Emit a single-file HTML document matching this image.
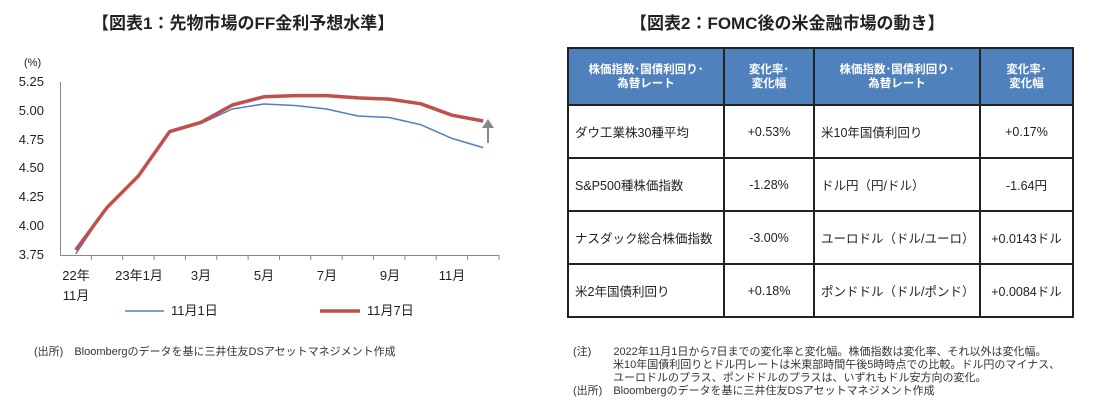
<!DOCTYPE html>
<html><head><meta charset="utf-8"><style>
body{margin:0;width:1099px;height:412px;background:#fff;font-family:"Liberation Sans","Noto Sans CJK JP",sans-serif;color:#222;position:relative;overflow:hidden}
.t{position:absolute;font-weight:bold;font-size:17px;white-space:nowrap}
.n{position:absolute;font-size:11px;white-space:nowrap;color:#333;line-height:13px}
table{position:absolute;left:567px;top:47px;border-collapse:collapse;font-size:12.5px;table-layout:fixed;width:505px}
td{border:2px solid #222;padding:0 6px;height:51px;white-space:nowrap}
th{border:2px solid #222;background:#4f81bd;color:#fff;font-size:11.5px;height:53px;line-height:14px}
td.c{text-align:center}
</style></head><body>
<div class="t" style="left:92px;top:9px">【図表1：先物市場のFF金利予想水準】</div>
<div class="t" style="left:630px;top:9px">【図表2：FOMC後の米金融市場の動き】</div>
<svg width="520" height="330" style="position:absolute;left:0;top:0" font-family="Liberation Sans,Noto Sans CJK JP,sans-serif" font-size="13" fill="#222">
<text x="24" y="66" font-size="11">(%)</text>
<g text-anchor="end">
<text x="44" y="86">5.25</text><text x="44" y="115">5.00</text><text x="44" y="144">4.75</text><text x="44" y="172">4.50</text><text x="44" y="201">4.25</text><text x="44" y="230">4.00</text><text x="44" y="259">3.75</text></g>
<line x1="60.5" y1="82" x2="60.5" y2="255" stroke="#888"/>
<line x1="60" y1="255.5" x2="499" y2="255.5" stroke="#888"/>
<g stroke="#888">
<line x1="91.4" y1="255" x2="91.4" y2="260"/><line x1="122.7" y1="255" x2="122.7" y2="260"/><line x1="154.1" y1="255" x2="154.1" y2="260"/><line x1="185.4" y1="255" x2="185.4" y2="260"/><line x1="216.8" y1="255" x2="216.8" y2="260"/><line x1="248.1" y1="255" x2="248.1" y2="260"/><line x1="279.5" y1="255" x2="279.5" y2="260"/><line x1="310.8" y1="255" x2="310.8" y2="260"/><line x1="342.2" y1="255" x2="342.2" y2="260"/><line x1="373.5" y1="255" x2="373.5" y2="260"/><line x1="404.9" y1="255" x2="404.9" y2="260"/><line x1="436.2" y1="255" x2="436.2" y2="260"/><line x1="467.6" y1="255" x2="467.6" y2="260"/><line x1="499" y1="255" x2="499" y2="260"/></g>
<g text-anchor="middle">
<text x="76" y="280">22年</text><text x="76" y="300">11月</text><text x="139" y="280">23年1月</text><text x="201" y="280">3月</text><text x="264" y="280">5月</text><text x="327" y="280">7月</text><text x="390" y="280">9月</text><text x="452" y="280">11月</text></g>
<polyline fill="none" stroke="#4f81bd" stroke-width="1.5" points="75.7,254 107,207.5 138.4,176 169.7,132.6 201.1,123.4 232.4,109 263.8,104 295.1,105.5 326.5,109 357.8,116 389.2,117.5 420.5,124.6 451.9,138.4 483.2,147.6"/>
<polyline fill="none" stroke="#c0504d" stroke-width="3.5" stroke-linejoin="round" points="75.7,250 107,207.5 138.4,176 169.7,131.5 201.1,122.3 232.4,105 263.8,96.8 295.1,95.6 326.5,95.6 357.8,97.9 389.2,99.1 420.5,103.7 451.9,115.2 483.2,121"/>
<line x1="488" y1="143" x2="488" y2="126" stroke="#888" stroke-width="2"/>
<polygon points="482,128 494,128 488,119" fill="#888"/>
<line x1="125" y1="311" x2="164" y2="311" stroke="#4f81bd" stroke-width="1.5"/>
<text x="171" y="315">11月1日</text>
<line x1="320" y1="311" x2="360" y2="311" stroke="#c0504d" stroke-width="3.5"/>
<text x="367" y="315">11月7日</text>
</svg>
<div class="n" style="left:34px;top:346px">(出所)　Bloombergのデータを基に三井住友DSアセットマネジメント作成</div>
<table>
<col style="width:156px"><col style="width:90px"><col style="width:166px"><col style="width:93px">
<tr><th>株価指数･国債利回り･<br>為替レート</th><th>変化率･<br>変化幅</th><th>株価指数･国債利回り･<br>為替レート</th><th>変化率･<br>変化幅</th></tr>
<tr><td>ダウ工業株30種平均</td><td class="c">+0.53%</td><td>米10年国債利回り</td><td class="c">+0.17%</td></tr>
<tr><td>S&amp;P500種株価指数</td><td class="c">-1.28%</td><td>ドル円（円/ドル）</td><td class="c">-1.64円</td></tr>
<tr><td>ナスダック総合株価指数</td><td class="c">-3.00%</td><td>ユーロドル（ドル/ユーロ）</td><td class="c">+0.0143ドル</td></tr>
<tr><td>米2年国債利回り</td><td class="c">+0.18%</td><td>ポンドドル（ドル/ポンド）</td><td class="c">+0.0084ドル</td></tr>
</table>
<div class="n" style="left:573px;top:346px">(注)　　2022年11月1日から7日までの変化率と変化幅。株価指数は変化率、それ以外は変化幅。</div>
<div class="n" style="left:613px;top:359px">米10年国債利回りとドル円レートは米東部時間午後5時時点での比較。ドル円のマイナス、</div>
<div class="n" style="left:613px;top:372px">ユーロドルのプラス、ポンドドルのプラスは、いずれもドル安方向の変化。</div>
<div class="n" style="left:573px;top:385px">(出所)　Bloombergのデータを基に三井住友DSアセットマネジメント作成</div>
</body></html>
